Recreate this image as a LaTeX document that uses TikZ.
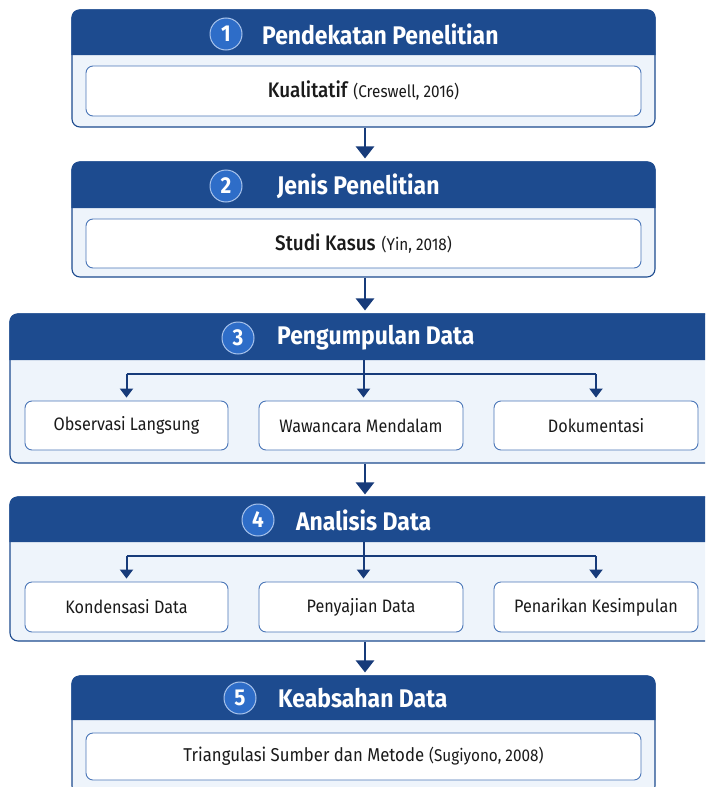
\documentclass[tikz,border=0pt]{standalone}
\usepackage{fontspec}
\setmainfont{Fira Sans}[FakeStretch=0.9]
\newfontfamily\medfont{Fira Sans Medium}[FakeStretch=0.9]
\usetikzlibrary{arrows.meta}
\definecolor{hdrblue}{HTML}{1D4B8F}
\definecolor{navy}{HTML}{173B7A}
\definecolor{paleblue}{HTML}{EEF4FB}
\definecolor{boxblue}{HTML}{4A76B8}
\definecolor{numblue}{HTML}{2E6DC8}
\definecolor{numring}{HTML}{A9C4EC}
\definecolor{txt}{HTML}{1A1A1A}
\tikzset{
  outerbox/.style={draw=hdrblue, line width=1.1pt, fill=paleblue, rounded corners=8pt, inner sep=0pt},
  innerbox/.style={draw=boxblue, line width=0.9pt, fill=white, rounded corners=7pt, inner sep=0pt, text=txt},
  flow/.style={draw=navy, line width=2.6pt, -{Triangle[width=18pt,length=12pt]}},
  branch/.style={draw=navy, line width=2pt},
  subflow/.style={draw=navy, line width=2pt, -{Triangle[width=13pt,length=9pt]}},
  numc/.style={circle, fill=numblue, draw=numring, line width=1pt, text=white, font=\bfseries\fontsize{23}{23}\selectfont, minimum size=32pt, inner sep=0pt},
  ttl/.style={text=white, font=\bfseries\fontsize{25.5}{25.5}\selectfont, anchor=west, inner sep=0pt},
  main/.style={font=\fontsize{18}{18}\selectfont},
}
\newcommand{\bigtxt}{\fontsize{21}{21}\selectfont}
\newcommand{\midtxt}{\fontsize{18.6}{18.6}\selectfont}
\newcommand{\citetxt}{\fontsize{17}{17}\selectfont}
\begin{document}
\begin{tikzpicture}[x=1pt,y=-1pt]
\useasboundingbox (0,0) rectangle (705,787);
\clip (0,0) rectangle (705,787);

% ---------- Section 1
\node[outerbox, minimum width=583pt, minimum height=117pt] (s1) at (363.5,68.5) {};
\fill[hdrblue] (s1.west |- 0,55) [rounded corners=8pt] -- (s1.north west) -- (s1.north east) [sharp corners] -- (s1.east |- 0,55) -- cycle;
\node[numc] (n1) at (226,34) {1};
\node[ttl] (t1) at (262,34) {Pendekatan Penelitian};
\node[innerbox, minimum width=555pt, minimum height=50pt] (b1) at (363.5,91)
  {{\medfont\bigtxt Kualitatif}\hspace{6pt}{\citetxt(Creswell, 2016)}};

% ---------- Section 2
\node[outerbox, minimum width=583pt, minimum height=115pt] (s2) at (363.5,219.5) {};
\fill[hdrblue] (s2.west |- 0,208) [rounded corners=8pt] -- (s2.north west) -- (s2.north east) [sharp corners] -- (s2.east |- 0,208) -- cycle;
\node[numc] (n2) at (226,186) {2};
\node[ttl] (t2) at (277,186) {Jenis Penelitian};
\node[innerbox, minimum width=555pt, minimum height=49pt] (b2) at (363.5,243.5)
  {{\medfont\bigtxt Studi Kasus}\hspace{6pt}{\citetxt(Yin, 2018)}};

% ---------- Section 3
\node[outerbox, minimum width=720pt, minimum height=149pt] (s3) at (370,388.5) {};
\fill[hdrblue] (s3.west |- 0,360) [rounded corners=8pt] -- (s3.north west) -- (s3.north east) [sharp corners] -- (s3.east |- 0,360) -- cycle;
\node[numc] (n3) at (238,338) {3};
\node[ttl] (t3) at (277,338) {Pengumpulan Data};
\node[innerbox, main, minimum width=203pt, minimum height=49pt] (o1) at (126.5,425.5) {Observasi Langsung};
\node[innerbox, main, minimum width=204pt, minimum height=49pt] (o2) at (361,425.5) {Wawancara Mendalam};
\node[innerbox, main, minimum width=204pt, minimum height=49pt] (o3) at (596,425.5) {Dokumentasi};
\coordinate (j3) at (363.5,374);
\draw[branch] (363.5,360) -- (j3);
\draw[branch] (o1.north |- j3) -- (o3.north |- j3);
\draw[subflow, shorten >=3pt] (o1.north |- j3) -- (o1.north);
\draw[subflow, shorten >=3pt] (j3) -- (j3 |- o2.north);
\draw[subflow, shorten >=3pt] (o3.north |- j3) -- (o3.north);

% ---------- Section 4
\node[outerbox, minimum width=720pt, minimum height=144pt] (s4) at (370,569) {};
\fill[hdrblue] (s4.west |- 0,542) [rounded corners=8pt] -- (s4.north west) -- (s4.north east) [sharp corners] -- (s4.east |- 0,542) -- cycle;
\node[numc] (n4) at (258,520) {4};
\node[ttl] (t4) at (296,520) {Analisis Data};
\node[innerbox, main, minimum width=203pt, minimum height=50pt] (k1) at (126.5,607) {Kondensasi Data};
\node[innerbox, main, minimum width=204pt, minimum height=50pt] (k2) at (361,607) {Penyajian Data};
\node[innerbox, main, minimum width=204pt, minimum height=50pt] (k3) at (596,607) {Penarikan Kesimpulan};
\coordinate (j4) at (363.5,556);
\draw[branch] (363.5,542) -- (j4);
\draw[branch] (k1.north |- j4) -- (k3.north |- j4);
\draw[subflow, shorten >=3pt] (k1.north |- j4) -- (k1.north);
\draw[subflow, shorten >=3pt] (j4) -- (j4 |- k2.north);
\draw[subflow, shorten >=3pt] (k3.north |- j4) -- (k3.north);

% ---------- Section 5
\node[outerbox, minimum width=583pt, minimum height=118pt] (s5) at (363.5,735) {};
\fill[hdrblue] (s5.west |- 0,720) [rounded corners=8pt] -- (s5.north west) -- (s5.north east) [sharp corners] -- (s5.east |- 0,720) -- cycle;
\node[numc] (n5) at (240,698) {5};
\node[ttl] (t5) at (278,698) {Keabsahan Data};
\node[innerbox, minimum width=555pt, minimum height=47pt] (b5) at (363.5,756.5)
  {{\midtxt Triangulasi Sumber dan Metode}\hspace{5pt}{\citetxt(Sugiyono, 2008)}};

% ---------- Main flow
\draw[flow, shorten >=3pt] (s1.south -| 365,0) -- (s2.north -| 365,0);
\draw[flow, shorten >=3pt] (s2.south -| 365,0) -- (s3.north -| 365,0);
\draw[flow, shorten >=2pt] (s3.south -| 365,0) -- (s4.north -| 365,0);
\draw[flow, shorten >=3pt] (s4.south -| 365,0) -- (s5.north -| 365,0);
\end{tikzpicture}
\end{document}
